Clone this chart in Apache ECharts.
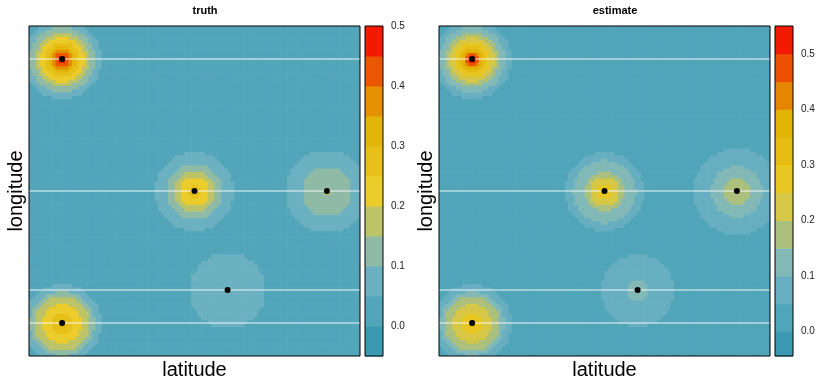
<!DOCTYPE html>
<html><head><meta charset="utf-8">
<script src="https://cdn.jsdelivr.net/npm/echarts@6/dist/echarts.min.js"></script>
<style>html,body{margin:0;padding:0;background:#fff}#c{width:820px;height:381px}</style>
</head><body><div id="c"></div>
<script>
// ---- data ----
const nCells = 100;
const pointX = [0.1, 0.5, 0.9, 0.6, 0.1];
const pointY = [0.9, 0.5, 0.5, 0.2, 0.1];
const lineY = [0.9, 0.5, 0.2, 0.1];
// contour radii (in grid cells) around each point, for value >= 0.05, 0.10, 0.15 ...
const truthRadii = [
  [12, 10, 8, 6.8, 5.3, 3.9, 3.0, 2.2, 1.0],
  [12, 8.3, 6.2, 4.5, 1.7],
  [12.5, 7.5, 1.0],
  [11.5],
  [12, 9.8, 8.3, 6.0, 3.0, 1.0]
];
const estimateRadii = [
  [12, 10, 8, 6.8, 5.5, 4.2, 3.2, 2.4, 1.6, 1.0],
  [12, 9.6, 6, 4.5, 2.2],
  [13, 7.9, 4.3],
  [11, 3.1],
  [12, 9.8, 8.3, 6.0, 3.0, 1.0]
];
const truthColors = ['#3B9AB2','#53A6BA','#6CB1C1','#8FBBA6','#BDC468','#EBCC2A','#E7C019','#E3B508','#E49100','#EB5600','#F21A00'];
const estimateColors = ['#3B9AB2','#51A5B9','#67AFC0','#82B9B7','#ACC07E','#D6C846','#E9C722','#E6BC13','#E2B204','#E68600','#EC5000','#F21A00'];
const truthRange = [-0.05, 0.5];
const estimateRange = [-0.044, 0.55];
const barTicks = [0, 0.1, 0.2, 0.3, 0.4, 0.5];
const bandStep = 0.05;

// ---- build ----
function buildField(radii) {
  const out = [];
  for (let i = 0; i < nCells; i++) {
    for (let j = 0; j < nCells; j++) {
      let band = 0;
      for (let b = 0; b < pointX.length; b++) {
        const d = Math.hypot(i + 0.5 - pointX[b] * nCells, j + 0.5 - pointY[b] * nCells);
        let c = 0;
        for (const r of radii[b]) if (d <= r) c++;
        if (c > band) band = c;
      }
      out.push([i, j, bandStep * band + bandStep / 2]);
    }
  }
  return out;
}
function pieces(colors) {
  return colors.map((c, k) => ({ gte: -bandStep + bandStep * k - 1e-9, lt: bandStep * k - 1e-9, color: c }));
}
function barData(colors, range) {
  return colors.map((c, k) => [Math.max(range[0], -bandStep + bandStep * k), Math.min(range[1], bandStep * k), k]);
}
const cats = Array.from({ length: nCells }, (_, i) => String(i));
const FONT = 'Liberation Sans, Arial, Helvetica, sans-serif';

const grids = [
  { left: 29, top: 26, width: 331, height: 330, outerBoundsMode: 'none', containLabel: false },
  { left: 439, top: 26, width: 331, height: 330, outerBoundsMode: 'none', containLabel: false },
  { left: 365, top: 26, width: 18, height: 330, outerBoundsMode: 'none', containLabel: false },
  { left: 775, top: 26, width: 18, height: 330, outerBoundsMode: 'none', containLabel: false }
];
const hidden = { axisLine: { show: false }, axisTick: { show: false }, axisLabel: { show: false }, splitLine: { show: false } };
const xAxis = [], yAxis = [];
[0, 1].forEach(g => {
  xAxis.push(Object.assign({ type: 'category', data: cats, gridIndex: g, boundaryGap: true }, hidden));
  xAxis.push(Object.assign({ type: 'value', gridIndex: g, min: 0, max: 1, position: 'bottom',
    name: 'latitude', nameLocation: 'middle', nameGap: 4,
    nameTextStyle: { fontSize: 20, color: '#000', fontFamily: FONT, verticalAlign: 'top' } }, hidden));
  yAxis.push(Object.assign({ type: 'category', data: cats, gridIndex: g, boundaryGap: true }, hidden));
  yAxis.push(Object.assign({ type: 'value', gridIndex: g, min: 0, max: 1, position: 'left',
    name: 'longitude', nameLocation: 'middle', nameGap: 3,
    nameTextStyle: { fontSize: 20, color: '#000', fontFamily: FONT, verticalAlign: 'bottom' } }, hidden));
});
[[2, truthRange], [3, estimateRange]].forEach(([g, range]) => {
  xAxis.push(Object.assign({ type: 'value', gridIndex: g, min: 0, max: 1 }, hidden));
  yAxis.push({ type: 'value', gridIndex: g, min: range[0], max: range[1], position: 'right',
    axisLine: { show: false }, splitLine: { show: false },
    axisTick: { show: true, length: 3, lineStyle: { color: '#000' }, customValues: barTicks },
    axisLabel: { show: true, margin: 8, fontSize: 10, color: '#222', fontFamily: FONT,
      customValues: barTicks, formatter: v => v.toFixed(1) } });
});

function frameSeries(xi, yi, x0, x1, y0, y1) {
  return { type: 'custom', xAxisIndex: xi, yAxisIndex: yi, z: 10, silent: true, data: [[x0, y0]],
    renderItem: (p, api) => {
      const a = api.coord([x0, y1]), b = api.coord([x1, y0]);
      return { type: 'rect', shape: { x: a[0], y: a[1], width: b[0] - a[0], height: b[1] - a[1] },
        style: { fill: 'none', stroke: '#000', lineWidth: 1 } };
    } };
}
function barSeries(xi, yi, colors, range) {
  return { type: 'custom', xAxisIndex: xi, yAxisIndex: yi, silent: true, data: barData(colors, range),
    renderItem: (p, api) => {
      const lo = api.value(0), hi = api.value(1);
      const a = api.coord([0, hi]), b = api.coord([1, lo]);
      return { type: 'rect', shape: { x: a[0], y: a[1], width: b[0] - a[0], height: b[1] - a[1] + 0.5 },
        style: { fill: colors[api.value(2)] } };
    } };
}
function cellSeries(xi, yi, data) {
  return { type: 'custom', xAxisIndex: xi, yAxisIndex: yi, data, silent: true, clip: true, progressive: 0,
    encode: { x: 0, y: 1 },
    renderItem: (p, api) => {
      const c = api.coord([api.value(0), api.value(1)]);
      const s = api.size([1, 1]);
      return { type: 'rect', shape: { x: c[0] - s[0] / 2, y: c[1] - s[1] / 2, width: s[0] + 0.7, height: s[1] + 0.7 },
        style: { fill: api.visual('color') } };
    } };
}
const series = [];
series.push(cellSeries(0, 0, buildField(truthRadii)));
series.push(cellSeries(2, 2, buildField(estimateRadii)));
[[1, 1], [3, 3]].forEach(([xi, yi]) => {
  lineY.forEach(y => series.push({ type: 'line', xAxisIndex: xi, yAxisIndex: yi, data: [[0, y], [1, y]],
    symbol: 'none', lineStyle: { color: '#ffffff', width: 1, opacity: 0.9 }, z: 4, silent: true }));
  series.push({ type: 'scatter', xAxisIndex: xi, yAxisIndex: yi, z: 6, silent: true,
    data: pointX.map((x, k) => [x, pointY[k]]), symbol: 'circle', symbolSize: 6,
    itemStyle: { color: '#000', opacity: 1 } });
  series.push(frameSeries(xi, yi, 0, 1, 0, 1));
});
series.push(barSeries(4, 4, truthColors, truthRange));
series.push(frameSeries(4, 4, 0, 1, truthRange[0], truthRange[1]));
series.push(barSeries(5, 5, estimateColors, estimateRange));
series.push(frameSeries(5, 5, 0, 1, estimateRange[0], estimateRange[1]));

const chart = echarts.init(document.getElementById('c'), null, { renderer: 'canvas' });
chart.setOption({
  animation: false,
  backgroundColor: '#fff',
  grid: grids,
  xAxis, yAxis,
  visualMap: [
    { type: 'piecewise', show: false, seriesIndex: 0, dimension: 2, pieces: pieces(truthColors) },
    { type: 'piecewise', show: false, seriesIndex: 1, dimension: 2, pieces: pieces(estimateColors) }
  ],
  graphic: [
    { type: 'text', x: 205, y: 11, style: { text: 'truth', textAlign: 'center', textVerticalAlign: 'middle', font: 'bold 11px ' + FONT, fill: '#000' } },
    { type: 'text', x: 615, y: 11, style: { text: 'estimate', textAlign: 'center', textVerticalAlign: 'middle', font: 'bold 11px ' + FONT, fill: '#000' } }
  ],
  series
});
</script></body></html>
